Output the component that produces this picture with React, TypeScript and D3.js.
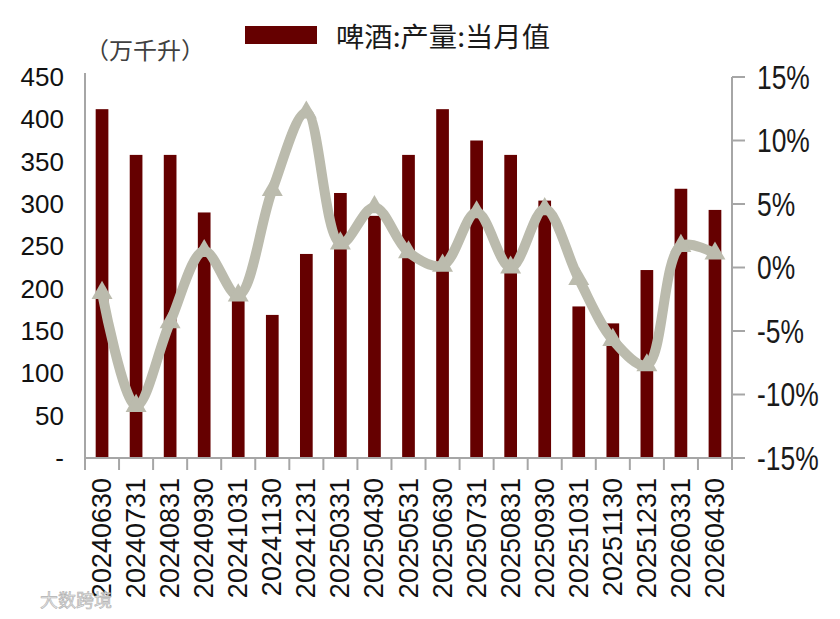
import React from "react";
import * as d3 from "d3";

const dates = [
  "20240630", "20240731", "20240831", "20240930", "20241031", "20241130",
  "20241231", "20250331", "20250430", "20250531", "20250630", "20250731",
  "20250831", "20250930", "20251031", "20251130", "20251231", "20260331",
  "20260430",
];

// 啤酒:产量:当月值 (万千升)
const output = [
  412, 358, 358, 290, 188, 169, 241, 313, 286, 358, 412, 375, 358, 304, 179,
  159, 222, 318, 293,
];

// yoy %
const yoy = [
  -2.0, -10.9, -4.3, 1.3, -2.2, 6.1, 12.2, 1.9, 4.75, 1.2, 0.15, 4.35, 0.0,
  4.6, -0.9, -5.7, -7.7, 1.7, 1.1,
];

const leftTicks = [0, 50, 100, 150, 200, 250, 300, 350, 400, 450];
const rightTicks = [-15, -10, -5, 0, 5, 10, 15];

const W = 840;
const H = 619;
const left = 85;
const right = 732;
const top = 77;
const bottom = 458;

const barColor = "#650000";
const lineColor = "#bbbbad";
const axisColor = "#a6a6a6";
const latin = "'Liberation Sans', Arial, sans-serif";
const cjk = "'Noto Sans CJK SC', 'Noto Sans', sans-serif";

export default function App() {
  const x = d3
    .scaleBand<string>()
    .domain(dates)
    .range([left, right])
    .paddingInner(0.627)
    .paddingOuter(0.3135);
  const step = (right - left) / dates.length;
  const yL = d3.scaleLinear().domain([0, 450]).range([bottom, top]);
  const yR = d3.scaleLinear().domain([-15, 15]).range([bottom, top]);
  const cx = (d: string) => (x(d) as number) + x.bandwidth() / 2;

  const line = d3
    .line<number>()
    .x((_, i) => cx(dates[i]))
    .y((d) => yR(d))
    .curve(d3.curveCatmullRom.alpha(0.5));

  const tri = d3.symbol().type(d3.symbolTriangle).size(190)();

  return (
    <svg
      width={W}
      height={H}
      style={{ position: "absolute", left: 0, top: 0, background: "#fff" }}
    >
      {/* legend */}
      <rect x={245} y={26} width={72} height={18} fill={barColor} />
      <text
        x={336}
        y={35}
        dominantBaseline="central"
        fontFamily={cjk}
        fontSize={27}
        fill="#1a1a1a"
        textLength={214}
        lengthAdjust="spacingAndGlyphs"
      >
        啤酒:产量:当月值
      </text>
      <text
        x={85}
        y={49}
        dominantBaseline="central"
        fontFamily={cjk}
        fontSize={23}
        fill="#404040"
        textLength={120}
        lengthAdjust="spacingAndGlyphs"
      >
        （万千升）
      </text>

      {/* bars */}
      {dates.map((d, i) => (
        <rect
          key={d}
          x={x(d)}
          y={yL(output[i])}
          width={x.bandwidth()}
          height={yL(0) - yL(output[i])}
          fill={barColor}
        />
      ))}

      {/* axes */}
      <line x1={left} x2={left} y1={top - 4} y2={bottom} stroke={axisColor} strokeWidth={2} />
      <line x1={right} x2={right} y1={top} y2={bottom} stroke={axisColor} strokeWidth={2} />
      <line x1={left} x2={right} y1={bottom} y2={bottom} stroke={axisColor} strokeWidth={2} />
      {d3.range(dates.length + 1).map((i) => (
        <line
          key={i}
          x1={left + i * step}
          x2={left + i * step}
          y1={bottom}
          y2={bottom + 12}
          stroke={axisColor}
          strokeWidth={2}
        />
      ))}
      {rightTicks.map((t) => (
        <line
          key={t}
          x1={right}
          x2={right + 13}
          y1={yR(t)}
          y2={yR(t)}
          stroke={axisColor}
          strokeWidth={2}
        />
      ))}

      {leftTicks.map((t) => (
        <text
          key={t}
          x={64}
          y={yL(t)}
          textAnchor="end"
          dominantBaseline="central"
          fontFamily={latin}
          fontSize={26}
          fill="#111"
        >
          {t === 0 ? "-" : t}
        </text>
      ))}
      {rightTicks.map((t) => (
        <text
          key={t}
          transform={`translate(757,${yR(t)}) scale(0.8,1)`}
          dominantBaseline="central"
          fontFamily={latin}
          fontSize={33}
          fill="#1a1a1a"
        >
          {t + "%"}
        </text>
      ))}

      {dates.map((d) => (
        <text
          key={d}
          transform={`translate(${cx(d)},${bottom + 20}) rotate(-90)`}
          textAnchor="end"
          dominantBaseline="central"
          fontFamily={latin}
          fontSize={27}
          fill="#111"
        >
          {d}
        </text>
      ))}

      {/* yoy line */}
      <path
        d={line(yoy) ?? ""}
        fill="none"
        stroke={lineColor}
        strokeWidth={10}
        strokeLinejoin="round"
      />
      {yoy.map((v, i) => (
        <path
          key={i}
          d={tri ?? ""}
          transform={`translate(${cx(dates[i])},${yR(v)})`}
          fill={lineColor}
        />
      ))}

      {/* watermark */}
      <text
        x={40}
        y={599}
        dominantBaseline="central"
        fontFamily={cjk}
        fontSize={18}
        fill="#e6e6e6"
        stroke="#b0b0b0"
        strokeWidth={0.6}
      >
        大数跨境
      </text>
    </svg>
  );
}
